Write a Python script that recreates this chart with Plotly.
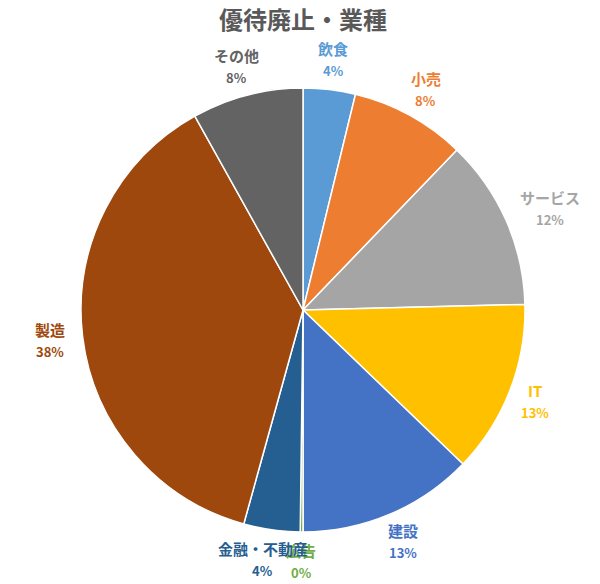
import math
import plotly.graph_objects as go

labels = ["飲食", "小売", "サービス", "IT", "建設", "広告", "金融・不動産", "製造", "その他"]
values = [3.8, 8.4, 12.4, 12.6, 12.8, 0.2, 4.1, 37.6, 8.1]
colors = ["#5B9BD5", "#ED7D31", "#A5A5A5", "#FFC000", "#4472C4", "#70AD47", "#255E91", "#9E480E", "#636363"]
title_text = "優待廃止・業種"

W, H = 600, 584
OFF = 8  # page body margin offset
cx, cy, r = 303 - OFF, 310 - OFF, 222
gap = 10          # distance from pie edge to label box
name_size, pct_size = 15, 13
half_h = 20       # half height of a two-line label box
pad = 8
font_fam = "Noto Sans CJK JP"


def text_width(s, size):
    return sum(size if ord(ch) > 0x2000 else 0.62 * size for ch in s)


fig = go.Figure(go.Pie(
    labels=labels,
    values=values,
    sort=False,
    direction="clockwise",
    rotation=0,
    marker=dict(colors=colors, line=dict(color="white", width=1.5)),
    textinfo="none",
    hoverinfo="label+percent",
    showlegend=False,
    domain=dict(x=[(cx - r) / W, (cx + r) / W], y=[1 - (cy + r) / H, 1 - (cy - r) / H]),
))

# data labels placed outside each slice ("outside end"), at the slice's mid-angle
total = sum(values)
cum = 0.0
annotations = []
for lab, v, col in zip(labels, values, colors):
    mid = (cum + v / 2) / total * 2 * math.pi
    cum += v
    s, c = math.sin(mid), -math.cos(mid)
    half_w = text_width(lab, name_size) / 2 + pad
    px = cx + (r + gap) * s + half_w * s
    py = cy + (r + gap) * c + half_h * c
    pct = f"{round(v / total * 100)}%"
    for txt, off, size in ((lab, -11, name_size), (pct, 11, pct_size)):
        annotations.append(dict(
            text="<b>" + txt + "</b>", x=px / W, y=1 - (py + off) / H,
            xref="paper", yref="paper", xanchor="center", yanchor="middle",
            showarrow=False, font=dict(size=size, color=col, family=font_fam),
        ))

fig.update_layout(
    width=W, height=H,
    margin=dict(l=0, r=0, t=0, b=0),
    paper_bgcolor="white",
    title=dict(text="<b>" + title_text + "</b>", x=(303 - OFF) / W, xanchor="center",
               y=1 - (21 - OFF) / H, yanchor="middle",
               font=dict(size=24, color="#595959", family=font_fam)),
    font=dict(family=font_fam),
    annotations=annotations,
)

fig.write_html("out.html")
